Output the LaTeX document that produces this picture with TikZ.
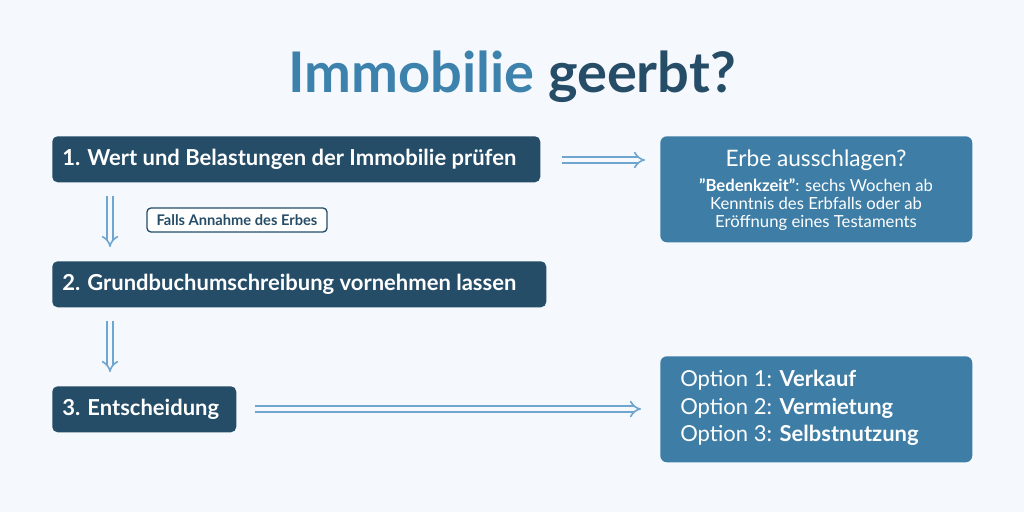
\documentclass[tikz,border=0pt]{standalone}
\usepackage{fontspec}
\setmainfont{Lato}
\usetikzlibrary{arrows.meta}
\definecolor{bgcol}{HTML}{F5F8FC}
\definecolor{darkbox}{HTML}{264D68}
\definecolor{lightbox}{HTML}{3E7EA6}
\definecolor{arrowcol}{HTML}{6FA6CF}
\definecolor{titleblue}{HTML}{3D82AD}
\tikzset{
  stepbox/.style={fill=darkbox, rounded corners=4pt, text=white, anchor=north west, inner sep=0pt},
  infobox/.style={fill=lightbox, rounded corners=5pt, text=white, anchor=north west, inner sep=0pt},
  steptext/.style={text=white, anchor=west, inner sep=0pt, font=\fontsize{16.5}{20}\selectfont\bfseries},
  hollow/.style={draw=arrowcol, double=bgcol, double distance=3pt, line width=1.2pt, -{Implies[length=8pt]}},
}
\begin{document}
\begin{tikzpicture}[x=0.75pt, y=-0.75pt]
  \fill[bgcol] (0,0) rectangle (1024,512);
  % title
  \node (title) at (512,77) {\fontsize{42}{46}\selectfont\bfseries\textcolor{titleblue}{Immobilie} \textcolor{darkbox}{geerbt?}};
  % left column
  \node[stepbox, minimum width=366pt, minimum height=34.5pt] (s1) at (52,136) {};
  \node[steptext] at ([xshift=7.5pt]s1.west) {1. Wert und Belastungen der Immobilie prüfen};
  \node[stepbox, minimum width=370.5pt, minimum height=34.5pt] (s2) at (52,261) {};
  \node[steptext] at ([xshift=7.5pt]s2.west) {2. Grundbuchumschreibung vornehmen lassen};
  \node[stepbox, minimum width=138pt, minimum height=34.5pt] (s3) at (52,386) {};
  \node[steptext] at ([xshift=7.5pt]s3.west) {3. Entscheidung};
  % condition label
  \node[draw=darkbox, line width=1pt, fill=white, rounded corners=3pt, text=darkbox, minimum width=135pt, minimum height=18pt, inner sep=0pt, font=\fontsize{11}{13}\selectfont\bfseries] (cond) at (237,220) {Falls Annahme des Erbes};
  % right column
  \node[infobox, minimum width=234pt, minimum height=79.5pt] (r1) at (660,136) {};
  \node[text=white, font=\fontsize{17}{20}\selectfont] at (816,160) {Erbe ausschlagen?};
  \node[text=white, align=center, font=\fontsize{12.5}{13.5}\selectfont] at (816,205) {\textbf{"Bedenkzeit"}: sechs Wochen ab\\ Kenntnis des Erbfalls oder ab\\ Eröffnung eines Testaments};
  \node[infobox, minimum width=234pt, minimum height=79.5pt] (r2) at (660,356) {};
  \node[text=white, align=left, anchor=west, inner sep=0pt, font=\fontsize{16.5}{20.5}\selectfont] at (680,408) {Option 1: \textbf{Verkauf}\\ Option 2: \textbf{Vermietung}\\ Option 3: \textbf{Selbstnutzung}};
  % arrows
  \coordinate (a1) at (562,160);
  \coordinate (b1) at (645,160);
  \draw[hollow] (a1) -- (b1);
  \coordinate (a2) at (110,196);
  \coordinate (b2) at (110,247);
  \draw[hollow] (a2) -- (b2);
  \coordinate (a3) at (110,321);
  \coordinate (b3) at (110,372);
  \draw[hollow] (a3) -- (b3);
  \coordinate (a4) at (255,409);
  \coordinate (b4) at (641,409);
  \draw[hollow] (a4) -- (b4);
\end{tikzpicture}
\end{document}
